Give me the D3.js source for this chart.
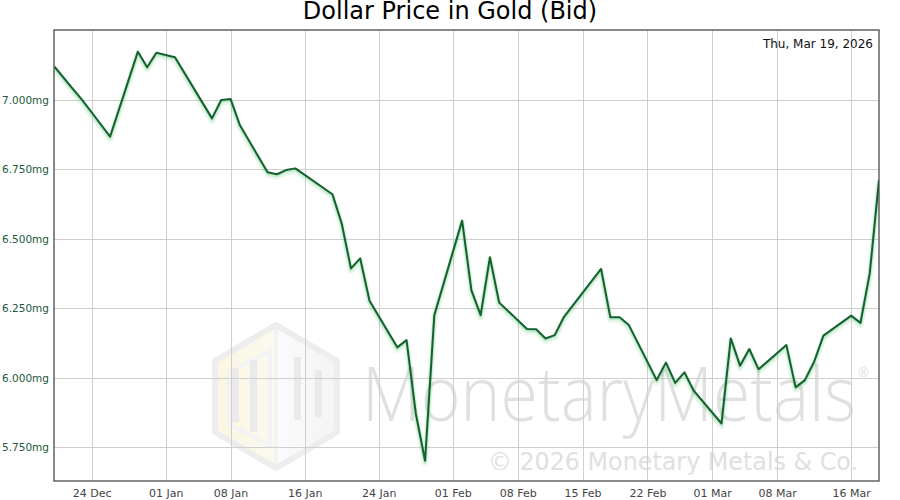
<!DOCTYPE html>
<html>
<head>
<meta charset="utf-8">
<script src="https://cdn.jsdelivr.net/npm/d3@7"></script>
<style>
  html, body { margin: 0; padding: 0; background: #fff; }
  svg { display: block; font-family: "DejaVu Sans", sans-serif; }
</style>
</head>
<body>
<svg id="chart" width="900" height="500"></svg>
<script>
// ---- data ----
const dates = [
  "2025-12-20","2025-12-22","2025-12-23","2025-12-24","2025-12-26",
  "2025-12-29","2025-12-30","2025-12-31","2026-01-02",
  "2026-01-06","2026-01-07","2026-01-08","2026-01-09",
  "2026-01-12","2026-01-13","2026-01-14","2026-01-15",
  "2026-01-19","2026-01-20","2026-01-21","2026-01-22","2026-01-23",
  "2026-01-26","2026-01-27","2026-01-28","2026-01-29","2026-01-30",
  "2026-02-02","2026-02-03","2026-02-04","2026-02-05","2026-02-06",
  "2026-02-09","2026-02-10","2026-02-11","2026-02-12","2026-02-13",
  "2026-02-17","2026-02-18","2026-02-19","2026-02-20",
  "2026-02-23","2026-02-24","2026-02-25","2026-02-26","2026-02-27",
  "2026-03-02","2026-03-03","2026-03-04","2026-03-05","2026-03-06",
  "2026-03-09","2026-03-10","2026-03-11","2026-03-12","2026-03-13",
  "2026-03-16","2026-03-17","2026-03-18","2026-03-19"
];
const values = [
  7.120, 7.039, 7.000, 6.956, 6.868,
  7.174, 7.118, 7.170, 7.154,
  6.934, 7.000, 7.004, 6.910,
  6.740, 6.733, 6.748, 6.754,
  6.661, 6.556, 6.394, 6.430, 6.278,
  6.110, 6.136, 5.872, 5.702, 6.226,
  6.566, 6.316, 6.226, 6.434, 6.271,
  6.176, 6.175, 6.142, 6.154, 6.220,
  6.392, 6.218, 6.218, 6.190,
  5.992, 6.055, 5.982, 6.020, 5.954,
  5.836, 6.142, 6.044, 6.104, 6.031,
  6.118, 5.966, 5.992, 6.058, 6.152,
  6.224, 6.198, 6.376, 6.712
];
const xTickDates = ["2025-12-24","2026-01-01","2026-01-08","2026-01-16","2026-01-24",
  "2026-02-01","2026-02-08","2026-02-15","2026-02-22","2026-03-01","2026-03-08","2026-03-16"];
const yTickValues = [5.75, 6.0, 6.25, 6.5, 6.75, 7.0];
const yDomain = [5.629, 7.252];
const titleText = "Dollar Price in Gold (Bid)";
const dateText = "Thu, Mar 19, 2026";

// ---- setup ----
const parse = d3.timeParse("%Y-%m-%d");
const data = dates.map((d, i) => ({ date: parse(d), value: values[i] }));
const svg = d3.select("#chart");
const L = 54, R = 879, T = 30, B = 481;

const x = d3.scaleTime().domain(d3.extent(data, d => d.date)).range([L + 0.5, R]);
const y = d3.scaleLinear().domain(yDomain).range([B, T]);

const defs = svg.append("defs");
defs.append("clipPath").attr("id", "plotclip")
  .append("rect").attr("x", L).attr("y", T).attr("width", R - L).attr("height", B - T);

// ---- watermark ----
const wm = svg.append("g").attr("class", "watermark");
{
  const logo = wm.append("g").attr("opacity", 0.8);
  const cx = 276, cy = 396.5, hw = 61, hh = 71.5;
  const hex = [[cx, cy - hh], [cx + hw, cy - hh / 2], [cx + hw, cy + hh / 2], [cx, cy + hh],
               [cx - hw, cy + hh / 2], [cx - hw, cy - hh / 2]];
  const grad = defs.append("linearGradient").attr("id", "hexgrad")
    .attr("x1", "0").attr("x2", "1").attr("y1", "0").attr("y2", "0");
  grad.append("stop").attr("offset", "0").attr("stop-color", "#fbf5da");
  grad.append("stop").attr("offset", "0.5").attr("stop-color", "#fbf8ec");
  grad.append("stop").attr("offset", "0.5").attr("stop-color", "#fafafa");
  grad.append("stop").attr("offset", "1").attr("stop-color", "#f2f2f2");
  logo.append("polygon").attr("points", hex.map(p => p.join(",")).join(" "))
    .attr("fill", "url(#hexgrad)").attr("stroke", "#e9e9e9").attr("stroke-width", 6)
    .attr("stroke-linejoin", "round");
  logo.append("line").attr("x1", cx).attr("x2", cx).attr("y1", cy - hh + 4).attr("y2", cy + hh - 4)
    .attr("stroke", "#eeeeee").attr("stroke-width", 3);
  const inner = [[cx - hw + 14, cy - hh / 2 + 12], [cx - 6, cy - hh + 26], [cx - 6, cy + hh - 22], [cx - hw + 14, cy + hh / 2 - 8]];
  logo.append("polygon").attr("points", inner.map(p => p.join(",")).join(" "))
    .attr("fill", "none").attr("stroke", "#f1f1f1").attr("stroke-width", 4);
  const bars = [[232, 368, 7, 54], [250, 360, 7, 72], [294, 357, 7, 63], [315, 370, 7, 47]];
  bars.forEach(b => logo.append("rect").attr("x", b[0]).attr("y", b[1]).attr("width", b[2]).attr("height", b[3])
    .attr("fill", "#e6e6e6"));

  const brand = wm.append("text").attr("x", 362).attr("y", 421)
    .attr("font-family", "'Open Sans', sans-serif").attr("fill", "#e0e0e0");
  brand.append("tspan").attr("font-weight", 300).attr("font-size", 76)
    .attr("textLength", 494).attr("lengthAdjust", "spacingAndGlyphs")
    .text("MonetaryMetals");
  brand.append("tspan").attr("font-size", 13).attr("dx", 2).attr("dy", -44)
    .text("®");
  wm.append("text").attr("x", 488).attr("y", 470)
    .attr("font-family", "'DejaVu Sans', sans-serif")
    .attr("font-size", 24).attr("fill", "#e0e0e0")
    .attr("textLength", 370).attr("lengthAdjust", "spacingAndGlyphs")
    .text("© 2026 Monetary Metals & Co.");
}

// ---- grid ----
const grid = svg.append("g");
grid.selectAll("line.v").data(xTickDates).join("line")
  .attr("x1", d => Math.round(x(parse(d))) + 0.5).attr("x2", d => Math.round(x(parse(d))) + 0.5)
  .attr("y1", T).attr("y2", B).attr("stroke", "#cfcfcf").attr("stroke-width", 1);
grid.selectAll("line.h").data(yTickValues).join("line")
  .attr("x1", L).attr("x2", R)
  .attr("y1", d => Math.round(y(d)) + 0.5).attr("y2", d => Math.round(y(d)) + 0.5)
  .attr("stroke", "#cfcfcf").attr("stroke-width", 1);

// ---- axes labels ----
const yAxis = d3.axisLeft(y).tickValues(yTickValues)
  .tickFormat(d => d3.format(".3f")(d) + "mg").tickSize(0).tickPadding(5);
const gy = svg.append("g").attr("transform", `translate(${L},0)`).call(yAxis);
gy.select(".domain").remove();
gy.selectAll("text").attr("font-family", "'DejaVu Sans', sans-serif").attr("font-size", 10.5)
  .attr("fill", "#23573a");

const xAxis = d3.axisBottom(x).tickValues(xTickDates.map(parse))
  .tickFormat(d3.timeFormat("%d %b")).tickSize(0).tickPadding(8);
const gx = svg.append("g").attr("transform", `translate(0,${B})`).call(xAxis);
gx.select(".domain").remove();
gx.selectAll("text").attr("font-family", "'DejaVu Sans', sans-serif").attr("font-size", 11)
  .attr("fill", "#444");

// ---- line ----
const line = d3.line().x(d => x(d.date)).y(d => y(d.value));
const lg = svg.append("g").attr("clip-path", "url(#plotclip)");
lg.append("path").datum(data).attr("d", line).attr("transform", "translate(0,2.5)")
  .attr("fill", "none").attr("stroke", "rgba(70,190,100,0.13)").attr("stroke-width", 6)
  .attr("stroke-linejoin", "round");
lg.append("path").datum(data).attr("d", line).attr("transform", "translate(0,1.2)")
  .attr("fill", "none").attr("stroke", "rgba(70,190,100,0.22)").attr("stroke-width", 3.5)
  .attr("stroke-linejoin", "round");
lg.append("path").datum(data).attr("d", line)
  .attr("fill", "none").attr("stroke", "#14602f").attr("stroke-width", 2)
  .attr("stroke-linejoin", "round");

// ---- frame ----
svg.append("rect").attr("x", L).attr("y", T).attr("width", R - L).attr("height", B - T)
  .attr("fill", "none").attr("stroke", "#4a4a4a").attr("stroke-width", 1.3);

// ---- texts ----
svg.append("text").attr("x", 450).attr("y", 19).attr("text-anchor", "middle")
  .attr("font-family", "'DejaVu Sans', sans-serif").attr("font-size", 24).attr("fill", "#000")
  .text(titleText);
svg.append("text").attr("x", 873).attr("y", 48).attr("text-anchor", "end")
  .attr("font-family", "'DejaVu Sans', sans-serif").attr("font-size", 12).attr("fill", "#111")
  .text(dateText);
</script>
</body>
</html>
